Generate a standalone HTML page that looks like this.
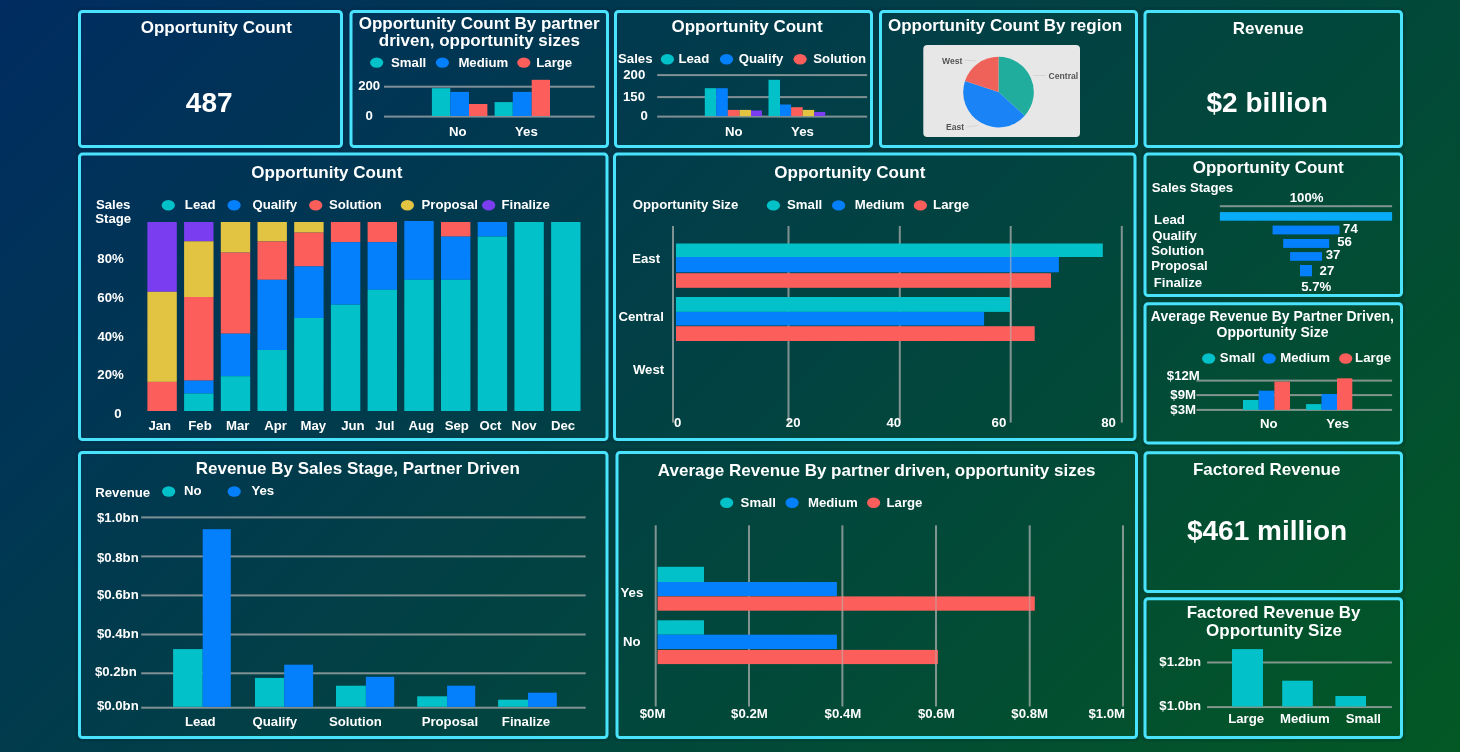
<!DOCTYPE html>
<html><head><meta charset="utf-8"><title>Sales Dashboard</title>
<style>
html,body{margin:0;padding:0;width:1460px;height:752px;overflow:hidden;background:#053f4a;}
svg{display:block;will-change:transform}
svg text{font-family:"Liberation Sans",sans-serif;font-weight:bold;fill:#ffffff;}
</style></head><body>
<svg width="1460" height="752" viewBox="0 0 1460 752">
<defs>
<linearGradient id="bg" x1="0" y1="0" x2="1106" y2="1106" gradientUnits="userSpaceOnUse">
<stop offset="0" stop-color="#002c61"/><stop offset="1" stop-color="#035824"/></linearGradient>
</defs>
<rect width="1460" height="752" fill="url(#bg)"/>
<rect x="76.8" y="8.8" width="267.4" height="140.4" rx="4" fill="none" stroke="#021a30" stroke-opacity="0.15" stroke-width="3"/>
<rect x="79.5" y="11.5" width="262" height="135" rx="3" fill="none" stroke="#4ae3fe" stroke-width="3"/>
<rect x="348.3" y="8.8" width="261.9" height="140.4" rx="4" fill="none" stroke="#021a30" stroke-opacity="0.15" stroke-width="3"/>
<rect x="351" y="11.5" width="256.5" height="135" rx="3" fill="none" stroke="#4ae3fe" stroke-width="3"/>
<rect x="612.8" y="8.8" width="261.4" height="140.4" rx="4" fill="none" stroke="#021a30" stroke-opacity="0.15" stroke-width="3"/>
<rect x="615.5" y="11.5" width="256" height="135" rx="3" fill="none" stroke="#4ae3fe" stroke-width="3"/>
<rect x="877.8" y="8.8" width="261.4" height="140.4" rx="4" fill="none" stroke="#021a30" stroke-opacity="0.15" stroke-width="3"/>
<rect x="880.5" y="11.5" width="256" height="135" rx="3" fill="none" stroke="#4ae3fe" stroke-width="3"/>
<rect x="1142.3" y="8.8" width="261.9" height="140.4" rx="4" fill="none" stroke="#021a30" stroke-opacity="0.15" stroke-width="3"/>
<rect x="1145" y="11.5" width="256.5" height="135" rx="3" fill="none" stroke="#4ae3fe" stroke-width="3"/>
<rect x="76.8" y="151.4" width="532.9" height="290.8" rx="4" fill="none" stroke="#021a30" stroke-opacity="0.15" stroke-width="3"/>
<rect x="79.5" y="154.1" width="527.5" height="285.4" rx="3" fill="none" stroke="#4ae3fe" stroke-width="3"/>
<rect x="611.8" y="151.4" width="525.9" height="290.8" rx="4" fill="none" stroke="#021a30" stroke-opacity="0.15" stroke-width="3"/>
<rect x="614.5" y="154.1" width="520.5" height="285.4" rx="3" fill="none" stroke="#4ae3fe" stroke-width="3"/>
<rect x="1142.3" y="151.4" width="261.9" height="146.8" rx="4" fill="none" stroke="#021a30" stroke-opacity="0.15" stroke-width="3"/>
<rect x="1145" y="154.1" width="256.5" height="141.4" rx="3" fill="none" stroke="#4ae3fe" stroke-width="3"/>
<rect x="1142.3" y="301.1" width="261.9" height="144.5" rx="4" fill="none" stroke="#021a30" stroke-opacity="0.15" stroke-width="3"/>
<rect x="1145" y="303.8" width="256.5" height="139.1" rx="3" fill="none" stroke="#4ae3fe" stroke-width="3"/>
<rect x="76.8" y="449.8" width="532.9" height="290.4" rx="4" fill="none" stroke="#021a30" stroke-opacity="0.15" stroke-width="3"/>
<rect x="79.5" y="452.5" width="527.5" height="285" rx="3" fill="none" stroke="#4ae3fe" stroke-width="3"/>
<rect x="614.3" y="449.8" width="524.9" height="290.4" rx="4" fill="none" stroke="#021a30" stroke-opacity="0.15" stroke-width="3"/>
<rect x="617" y="452.5" width="519.5" height="285" rx="3" fill="none" stroke="#4ae3fe" stroke-width="3"/>
<rect x="1142.3" y="450.1" width="261.9" height="144.1" rx="4" fill="none" stroke="#021a30" stroke-opacity="0.15" stroke-width="3"/>
<rect x="1145" y="452.8" width="256.5" height="138.7" rx="3" fill="none" stroke="#4ae3fe" stroke-width="3"/>
<rect x="1142.3" y="596.1" width="261.9" height="144.1" rx="4" fill="none" stroke="#021a30" stroke-opacity="0.15" stroke-width="3"/>
<rect x="1145" y="598.8" width="256.5" height="138.7" rx="3" fill="none" stroke="#4ae3fe" stroke-width="3"/>
<text x="140.72" y="33.1" font-size="17">Opportunity Count</text>
<text x="185.84" y="112" font-size="28">487</text>
<text x="358.72" y="28.6" font-size="17">Opportunity Count By partner</text>
<text x="378.75" y="46.3" font-size="17">driven, opportunity sizes</text>
<ellipse cx="376.7" cy="62.6" rx="6.6" ry="5.2" fill="#02c1c8"/>
<ellipse cx="442.4" cy="62.6" rx="6.6" ry="5.2" fill="#0580fd"/>
<ellipse cx="523.8" cy="62.6" rx="6.6" ry="5.2" fill="#fc5f5b"/>
<text x="391.07" y="66.8" font-size="13.2">Small</text>
<text x="458.38" y="66.8" font-size="13.2">Medium</text>
<text x="536.31" y="66.8" font-size="13.2">Large</text>
<text x="358.13" y="90" font-size="13.2">200</text>
<text x="365.39" y="119.8" font-size="13.2">0</text>
<rect x="384" y="85.7" width="210.7" height="2" fill="#b2b2b2" opacity="0.72"/>
<rect x="384" y="115.6" width="210.7" height="2" fill="#b2b2b2" opacity="0.72"/>
<rect x="431.9" y="88.2" width="18.4" height="27.8" fill="#02c1c8"/>
<rect x="450.3" y="91.9" width="18.7" height="24.1" fill="#0580fd"/>
<rect x="469" y="104" width="18.4" height="12" fill="#fc5f5b"/>
<rect x="494.6" y="102.1" width="18.2" height="13.9" fill="#02c1c8"/>
<rect x="512.8" y="91.9" width="18.9" height="24.1" fill="#0580fd"/>
<rect x="531.7" y="79.8" width="18.3" height="36.2" fill="#fc5f5b"/>
<text x="448.97" y="135.6" font-size="13.2">No</text>
<text x="515.01" y="135.6" font-size="13.2">Yes</text>
<text x="671.47" y="32.3" font-size="17">Opportunity Count</text>
<text x="618.08" y="62.7" font-size="13.2">Sales</text>
<ellipse cx="667.4" cy="59.2" rx="6.6" ry="5.2" fill="#02c1c8"/>
<ellipse cx="726.5" cy="59.2" rx="6.6" ry="5.2" fill="#0580fd"/>
<ellipse cx="800.1" cy="59.2" rx="6.6" ry="5.2" fill="#fc5f5b"/>
<text x="678.44" y="62.7" font-size="13.2">Lead</text>
<text x="738.69" y="62.7" font-size="13.2">Qualify</text>
<text x="813.33" y="62.7" font-size="13.2">Solution</text>
<text x="623.23" y="78.9" font-size="13.2">200</text>
<text x="623.04" y="100.8" font-size="13.2">150</text>
<text x="640.39" y="119.8" font-size="13.2">0</text>
<rect x="657.2" y="74.1" width="209.9" height="2" fill="#b2b2b2" opacity="0.72"/>
<rect x="657.2" y="96.1" width="209.9" height="2" fill="#b2b2b2" opacity="0.72"/>
<rect x="657.2" y="115.6" width="209.9" height="2" fill="#b2b2b2" opacity="0.72"/>
<rect x="704.8" y="88.2" width="11.4" height="27.9" fill="#02c1c8"/>
<rect x="716.2" y="88.2" width="11.6" height="27.9" fill="#0580fd"/>
<rect x="727.8" y="109.9" width="11.8" height="6.2" fill="#fc5f5b"/>
<rect x="739.6" y="109.9" width="11.4" height="6.2" fill="#e3c442"/>
<rect x="751" y="110.5" width="11" height="5.6" fill="#7a3ef0"/>
<rect x="768.5" y="79.8" width="11.5" height="36.3" fill="#02c1c8"/>
<rect x="780" y="104.5" width="11.1" height="11.6" fill="#0580fd"/>
<rect x="791.1" y="107.2" width="11.6" height="8.9" fill="#fc5f5b"/>
<rect x="802.7" y="109.9" width="11.5" height="6.2" fill="#e3c442"/>
<rect x="814.2" y="112" width="11" height="4.1" fill="#7a3ef0"/>
<text x="725.07" y="135.6" font-size="13.2">No</text>
<text x="791.11" y="135.6" font-size="13.2">Yes</text>
<text x="887.98" y="30.5" font-size="17">Opportunity Count By region</text>
<rect x="923.3" y="45" width="156.7" height="91.9" fill="#e7e7e7" rx="4"/>
<path d="M998.5 92.1L998.5 56.8A35.3 35.3 0 0 1 1024.73 115.72Z" fill="#20ad9e"/>
<path d="M998.5 92.1L1024.73 115.72A35.3 35.3 0 0 1 965 80.96Z" fill="#1a84f6"/>
<path d="M998.5 92.1L965 80.96A35.3 35.3 0 0 1 998.5 56.8Z" fill="#ee625a"/>
<g stroke="#c9c9c9" stroke-width="0.6" fill="none"><path d="M964 60 L976 61"/><path d="M1033 75.5 L1046 75.5"/><path d="M966.5 127 L978 125.5"/></g>
<text x="942.12" y="63.6" font-size="8.6" style="fill:#555555">West</text>
<text x="1048.56" y="78.5" font-size="8.6" style="fill:#555555">Central</text>
<text x="946.08" y="129.7" font-size="8.6" style="fill:#555555">East</text>
<text x="1232.79" y="33.8" font-size="17">Revenue</text>
<text x="1206.56" y="112" font-size="28">$2 billion</text>
<text x="251.32" y="177.8" font-size="17">Opportunity Count</text>
<text x="95.98" y="209.1" font-size="13.2">Sales</text>
<text x="95.26" y="222.9" font-size="13.2">Stage</text>
<ellipse cx="168.3" cy="205.3" rx="6.6" ry="5.2" fill="#02c1c8"/>
<ellipse cx="234.1" cy="205.3" rx="6.6" ry="5.2" fill="#0580fd"/>
<ellipse cx="315.7" cy="205.3" rx="6.6" ry="5.2" fill="#fc5f5b"/>
<ellipse cx="407.4" cy="205.3" rx="6.6" ry="5.2" fill="#e3c442"/>
<ellipse cx="488.7" cy="205.3" rx="6.6" ry="5.2" fill="#7a3ef0"/>
<text x="184.84" y="209" font-size="13.2">Lead</text>
<text x="252.44" y="209" font-size="13.2">Qualify</text>
<text x="328.88" y="209" font-size="13.2">Solution</text>
<text x="421.49" y="209" font-size="13.2">Proposal</text>
<text x="501.43" y="209" font-size="13.2">Finalize</text>
<text x="97.35" y="263" font-size="13.2">80%</text>
<text x="97.32" y="302" font-size="13.2">60%</text>
<text x="97.46" y="340.6" font-size="13.2">40%</text>
<text x="97.34" y="378.9" font-size="13.2">20%</text>
<text x="114.24" y="417.8" font-size="13.2">0</text>
<rect x="147.4" y="222" width="29.4" height="69.8" fill="#7a3ef0"/>
<rect x="147.4" y="291.8" width="29.4" height="90.1" fill="#e3c442"/>
<rect x="147.4" y="381.9" width="29.4" height="29.1" fill="#fc5f5b"/>
<rect x="184.1" y="222" width="29.4" height="19.3" fill="#7a3ef0"/>
<rect x="184.1" y="241.3" width="29.4" height="55.7" fill="#e3c442"/>
<rect x="184.1" y="297" width="29.4" height="83.6" fill="#fc5f5b"/>
<rect x="184.1" y="380.6" width="29.4" height="12.9" fill="#0580fd"/>
<rect x="184.1" y="393.5" width="29.4" height="17.5" fill="#02c1c8"/>
<rect x="220.8" y="222" width="29.4" height="30.6" fill="#e3c442"/>
<rect x="220.8" y="252.6" width="29.4" height="81.1" fill="#fc5f5b"/>
<rect x="220.8" y="333.7" width="29.4" height="42.5" fill="#0580fd"/>
<rect x="220.8" y="376.2" width="29.4" height="34.8" fill="#02c1c8"/>
<rect x="257.5" y="222" width="29.4" height="19.5" fill="#e3c442"/>
<rect x="257.5" y="241.5" width="29.4" height="38.3" fill="#fc5f5b"/>
<rect x="257.5" y="279.8" width="29.4" height="70.2" fill="#0580fd"/>
<rect x="257.5" y="350" width="29.4" height="61" fill="#02c1c8"/>
<rect x="294.2" y="222" width="29.4" height="10.6" fill="#e3c442"/>
<rect x="294.2" y="232.6" width="29.4" height="33.8" fill="#fc5f5b"/>
<rect x="294.2" y="266.4" width="29.4" height="51.6" fill="#0580fd"/>
<rect x="294.2" y="318" width="29.4" height="93" fill="#02c1c8"/>
<rect x="330.9" y="222" width="29.4" height="20.2" fill="#fc5f5b"/>
<rect x="330.9" y="242.2" width="29.4" height="62.5" fill="#0580fd"/>
<rect x="330.9" y="304.7" width="29.4" height="106.3" fill="#02c1c8"/>
<rect x="367.6" y="222" width="29.4" height="20.2" fill="#fc5f5b"/>
<rect x="367.6" y="242.2" width="29.4" height="47.6" fill="#0580fd"/>
<rect x="367.6" y="289.8" width="29.4" height="121.2" fill="#02c1c8"/>
<rect x="404.3" y="221" width="29.4" height="58.8" fill="#0580fd"/>
<rect x="404.3" y="279.8" width="29.4" height="131.2" fill="#02c1c8"/>
<rect x="441" y="222" width="29.4" height="14.6" fill="#fc5f5b"/>
<rect x="441" y="236.6" width="29.4" height="43.2" fill="#0580fd"/>
<rect x="441" y="279.8" width="29.4" height="131.2" fill="#02c1c8"/>
<rect x="477.7" y="222" width="29.4" height="14.6" fill="#0580fd"/>
<rect x="477.7" y="236.6" width="29.4" height="174.4" fill="#02c1c8"/>
<rect x="514.4" y="222" width="29.4" height="189" fill="#02c1c8"/>
<rect x="551.1" y="222" width="29.4" height="189" fill="#02c1c8"/>
<text x="148.44" y="430.1" font-size="13.2">Jan</text>
<text x="188.3" y="430.1" font-size="13.2">Feb</text>
<text x="225.92" y="430.1" font-size="13.2">Mar</text>
<text x="264.27" y="430.1" font-size="13.2">Apr</text>
<text x="300.55" y="430.1" font-size="13.2">May</text>
<text x="341.18" y="430.1" font-size="13.2">Jun</text>
<text x="375.33" y="430.1" font-size="13.2">Jul</text>
<text x="408.4" y="430.1" font-size="13.2">Aug</text>
<text x="444.68" y="430.1" font-size="13.2">Sep</text>
<text x="479.41" y="430.1" font-size="13.2">Oct</text>
<text x="511.62" y="430.1" font-size="13.2">Nov</text>
<text x="550.89" y="430.1" font-size="13.2">Dec</text>
<text x="774.32" y="177.6" font-size="17">Opportunity Count</text>
<text x="632.8" y="209.1" font-size="13.2">Opportunity Size</text>
<ellipse cx="773.4" cy="205.4" rx="6.6" ry="5.2" fill="#02c1c8"/>
<ellipse cx="838.6" cy="205.4" rx="6.6" ry="5.2" fill="#0580fd"/>
<ellipse cx="920.4" cy="205.4" rx="6.6" ry="5.2" fill="#fc5f5b"/>
<text x="787.07" y="209.1" font-size="13.2">Small</text>
<text x="854.78" y="209.1" font-size="13.2">Medium</text>
<text x="933.11" y="209.1" font-size="13.2">Large</text>
<rect x="672" y="226" width="2" height="196.6" fill="#b2b2b2" opacity="0.72"/>
<rect x="787.5" y="226" width="2" height="196.6" fill="#b2b2b2" opacity="0.72"/>
<rect x="898.8" y="226" width="2" height="196.6" fill="#b2b2b2" opacity="0.72"/>
<rect x="1009.7" y="226" width="2" height="196.6" fill="#b2b2b2" opacity="0.72"/>
<rect x="1120.8" y="226" width="2" height="196.6" fill="#b2b2b2" opacity="0.72"/>
<rect x="676" y="243.5" width="426.8" height="13.5" fill="#02c1c8"/>
<rect x="676" y="257" width="382.9" height="15.3" fill="#0580fd"/>
<rect x="676" y="273.2" width="375" height="14.6" fill="#fc5f5b"/>
<rect x="676" y="297" width="334" height="14.9" fill="#02c1c8"/>
<rect x="676" y="311.9" width="308.1" height="13.6" fill="#0580fd"/>
<rect x="676" y="326.2" width="358.7" height="14.8" fill="#fc5f5b"/>
<rect x="1009.9" y="243.5" width="1.6" height="97.5" fill="#b2b2b2" opacity="0.6"/>
<text x="632.2" y="263.1" font-size="13.2">East</text>
<text x="618.41" y="321.3" font-size="13.2">Central</text>
<text x="632.91" y="373.8" font-size="13.2">West</text>
<text x="673.99" y="426.9" font-size="13.2">0</text>
<text x="785.8" y="426.9" font-size="13.2">20</text>
<text x="886.38" y="426.9" font-size="13.2">40</text>
<text x="991.59" y="426.9" font-size="13.2">60</text>
<text x="1101.27" y="426.9" font-size="13.2">80</text>
<text x="1192.67" y="172.7" font-size="17">Opportunity Count</text>
<text x="1151.76" y="191.8" font-size="13.2">Sales Stages</text>
<text x="1289.73" y="201.7" font-size="13.2">100%</text>
<rect x="1219.8" y="205.2" width="172.3" height="2" fill="#b2b2b2" opacity="0.72"/>
<rect x="1219.9" y="212.1" width="172.2" height="8.6" fill="#08abf8"/>
<rect x="1272.6" y="225.6" width="66.9" height="8.8" fill="#0580fd"/>
<rect x="1283.2" y="239" width="46" height="8.9" fill="#0580fd"/>
<rect x="1290.1" y="252.1" width="31.9" height="8.7" fill="#0580fd"/>
<rect x="1300" y="265" width="12" height="11.3" fill="#0580fd"/>
<text x="1343.06" y="232.9" font-size="13.2">74</text>
<text x="1337.19" y="246.4" font-size="13.2">56</text>
<text x="1325.7" y="258.8" font-size="13.2">37</text>
<text x="1319.62" y="274.5" font-size="13.2">27</text>
<text x="1301.18" y="290.8" font-size="13.2">5.7%</text>
<text x="1154.09" y="223.7" font-size="13.2">Lead</text>
<text x="1152.19" y="239.8" font-size="13.2">Qualify</text>
<text x="1151.28" y="254.8" font-size="13.2">Solution</text>
<text x="1151.24" y="270.1" font-size="13.2">Proposal</text>
<text x="1153.73" y="286.5" font-size="13.2">Finalize</text>
<text x="1150.87" y="321.4" font-size="14">Average Revenue By Partner Driven,</text>
<text x="1216.55" y="336.5" font-size="14">Opportunity Size</text>
<ellipse cx="1208.7" cy="358.5" rx="6.6" ry="5.2" fill="#02c1c8"/>
<ellipse cx="1269.2" cy="358.5" rx="6.6" ry="5.2" fill="#0580fd"/>
<ellipse cx="1345.7" cy="358.5" rx="6.6" ry="5.2" fill="#fc5f5b"/>
<text x="1219.87" y="362.1" font-size="13.2">Small</text>
<text x="1280.18" y="362.1" font-size="13.2">Medium</text>
<text x="1355.11" y="362.1" font-size="13.2">Large</text>
<text x="1166.84" y="380" font-size="13.2">$12M</text>
<text x="1170.32" y="399" font-size="13.2">$9M</text>
<text x="1170.32" y="413.6" font-size="13.2">$3M</text>
<rect x="1196.4" y="379.6" width="195.7" height="2" fill="#b2b2b2" opacity="0.72"/>
<rect x="1196.4" y="394.1" width="195.7" height="2" fill="#b2b2b2" opacity="0.72"/>
<rect x="1196.4" y="408.9" width="195.7" height="2" fill="#b2b2b2" opacity="0.72"/>
<rect x="1243" y="400" width="15.7" height="9.9" fill="#02c1c8"/>
<rect x="1258.7" y="390.7" width="15.7" height="19.2" fill="#0580fd"/>
<rect x="1274.4" y="381.6" width="15.6" height="28.3" fill="#fc5f5b"/>
<rect x="1306.1" y="404.1" width="15.4" height="5.8" fill="#02c1c8"/>
<rect x="1321.5" y="394" width="15.5" height="15.9" fill="#0580fd"/>
<rect x="1337" y="378.3" width="15.3" height="31.6" fill="#fc5f5b"/>
<text x="1260.07" y="427.8" font-size="13.2">No</text>
<text x="1326.36" y="427.8" font-size="13.2">Yes</text>
<text x="195.71" y="473.8" font-size="17">Revenue By Sales Stage, Partner Driven</text>
<text x="95.22" y="497" font-size="13.2">Revenue</text>
<ellipse cx="168.7" cy="491.5" rx="6.6" ry="5.2" fill="#02c1c8"/>
<ellipse cx="234.2" cy="491.5" rx="6.6" ry="5.2" fill="#0580fd"/>
<text x="183.92" y="495" font-size="13.2">No</text>
<text x="251.41" y="495" font-size="13.2">Yes</text>
<rect x="141.2" y="516.4" width="444.5" height="2" fill="#b2b2b2" opacity="0.72"/>
<rect x="141.2" y="555.4" width="444.5" height="2" fill="#b2b2b2" opacity="0.72"/>
<rect x="141.2" y="594.4" width="444.5" height="2" fill="#b2b2b2" opacity="0.72"/>
<rect x="141.2" y="633.5" width="444.5" height="2" fill="#b2b2b2" opacity="0.72"/>
<rect x="141.2" y="672.3" width="444.5" height="2" fill="#b2b2b2" opacity="0.72"/>
<rect x="141.2" y="706.7" width="444.5" height="2" fill="#b2b2b2" opacity="0.72"/>
<text x="96.96" y="521.9" font-size="13.2">$1.0bn</text>
<text x="96.96" y="561.5" font-size="13.2">$0.8bn</text>
<text x="96.96" y="599.1" font-size="13.2">$0.6bn</text>
<text x="96.96" y="637.9" font-size="13.2">$0.4bn</text>
<text x="96.96" y="709.8" font-size="13.2">$0.0bn</text>
<text x="94.96" y="676.2" font-size="13.2">$0.2bn</text>
<rect x="173.1" y="649.1" width="29.6" height="57.7" fill="#02c1c8"/>
<rect x="202.7" y="529.2" width="28.1" height="177.6" fill="#0580fd"/>
<rect x="255" y="677.9" width="29.2" height="28.9" fill="#02c1c8"/>
<rect x="284.2" y="664.7" width="28.9" height="42.1" fill="#0580fd"/>
<rect x="336" y="685.7" width="29.9" height="21.1" fill="#02c1c8"/>
<rect x="365.9" y="676.8" width="28.3" height="30" fill="#0580fd"/>
<rect x="417.2" y="696.3" width="29.9" height="10.5" fill="#02c1c8"/>
<rect x="447.1" y="685.7" width="28.1" height="21.1" fill="#0580fd"/>
<rect x="498.1" y="699.7" width="29.9" height="7.1" fill="#02c1c8"/>
<rect x="528" y="692.7" width="28.8" height="14.1" fill="#0580fd"/>
<text x="184.89" y="726.2" font-size="13.2">Lead</text>
<text x="252.49" y="726.2" font-size="13.2">Qualify</text>
<text x="329.03" y="726.2" font-size="13.2">Solution</text>
<text x="421.64" y="726.2" font-size="13.2">Proposal</text>
<text x="501.83" y="726.2" font-size="13.2">Finalize</text>
<text x="657.86" y="475.8" font-size="17">Average Revenue By partner driven, opportunity sizes</text>
<ellipse cx="726.7" cy="502.8" rx="6.6" ry="5.2" fill="#02c1c8"/>
<ellipse cx="792.1" cy="502.8" rx="6.6" ry="5.2" fill="#0580fd"/>
<ellipse cx="873.6" cy="502.8" rx="6.6" ry="5.2" fill="#fc5f5b"/>
<text x="740.62" y="506.9" font-size="13.2">Small</text>
<text x="807.93" y="506.9" font-size="13.2">Medium</text>
<text x="886.56" y="506.9" font-size="13.2">Large</text>
<rect x="654.7" y="525.3" width="2" height="181.2" fill="#b2b2b2" opacity="0.72"/>
<rect x="748" y="525.3" width="2" height="181.2" fill="#b2b2b2" opacity="0.72"/>
<rect x="841.4" y="525.3" width="2" height="181.2" fill="#b2b2b2" opacity="0.72"/>
<rect x="935" y="525.3" width="2" height="181.2" fill="#b2b2b2" opacity="0.72"/>
<rect x="1028.7" y="525.3" width="2" height="181.2" fill="#b2b2b2" opacity="0.72"/>
<rect x="1122" y="525.3" width="2" height="181.2" fill="#b2b2b2" opacity="0.72"/>
<rect x="657.6" y="566.8" width="46.4" height="15.2" fill="#02c1c8"/>
<rect x="657.6" y="582" width="179.3" height="14" fill="#0580fd"/>
<rect x="657.6" y="596.4" width="377.2" height="14.3" fill="#fc5f5b"/>
<rect x="657.6" y="620.3" width="46.4" height="14.4" fill="#02c1c8"/>
<rect x="657.6" y="634.7" width="179.3" height="14.3" fill="#0580fd"/>
<rect x="657.6" y="649.9" width="280.3" height="14.2" fill="#fc5f5b"/>
<rect x="841.6" y="596.4" width="1.6" height="14.3" fill="#b2b2b2" opacity="0.55"/>
<rect x="841.6" y="649.9" width="1.6" height="14.2" fill="#b2b2b2" opacity="0.55"/>
<rect x="935.2" y="649.9" width="1.6" height="14.2" fill="#b2b2b2" opacity="0.5"/>
<rect x="935.2" y="596.4" width="1.6" height="14.3" fill="#b2b2b2" opacity="0.5"/>
<rect x="1028.9" y="596.4" width="1.6" height="14.3" fill="#b2b2b2" opacity="0.5"/>
<text x="620.51" y="597" font-size="13.2">Yes</text>
<text x="623.02" y="645.7" font-size="13.2">No</text>
<text x="639.77" y="718" font-size="13.2">$0M</text>
<text x="731.06" y="718" font-size="13.2">$0.2M</text>
<text x="824.61" y="718" font-size="13.2">$0.4M</text>
<text x="918.01" y="718" font-size="13.2">$0.6M</text>
<text x="1011.31" y="718" font-size="13.2">$0.8M</text>
<text x="1088.41" y="718" font-size="13.2">$1.0M</text>
<text x="1192.98" y="474.9" font-size="17">Factored Revenue</text>
<text x="1186.94" y="540" font-size="28">$461 million</text>
<text x="1186.71" y="617.7" font-size="17">Factored Revenue By</text>
<text x="1206.09" y="636.1" font-size="17">Opportunity Size</text>
<text x="1159.36" y="665.5" font-size="13.2">$1.2bn</text>
<text x="1159.36" y="710" font-size="13.2">$1.0bn</text>
<rect x="1207.1" y="661.5" width="184.8" height="2" fill="#b2b2b2" opacity="0.72"/>
<rect x="1207.1" y="706.1" width="184.8" height="2" fill="#b2b2b2" opacity="0.72"/>
<rect x="1232" y="649.1" width="31" height="57.4" fill="#02c1c8"/>
<rect x="1282.2" y="680.7" width="30.6" height="25.8" fill="#02c1c8"/>
<rect x="1335.4" y="696" width="30.6" height="10.5" fill="#02c1c8"/>
<text x="1228.21" y="723.4" font-size="13.2">Large</text>
<text x="1280.03" y="723.4" font-size="13.2">Medium</text>
<text x="1345.82" y="723.4" font-size="13.2">Small</text>
</svg>
</body></html>
